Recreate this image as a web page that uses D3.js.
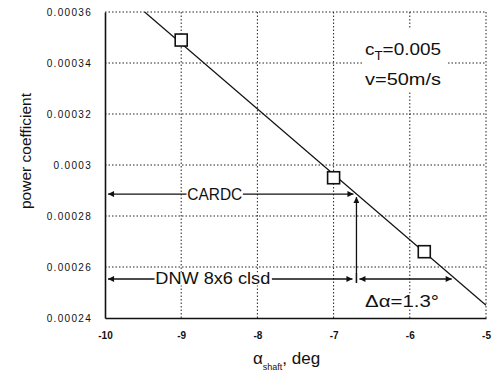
<!DOCTYPE html>
<html><head><meta charset="utf-8">
<script src="https://cdn.jsdelivr.net/npm/d3@7/dist/d3.min.js"></script>
<style>body{margin:0;background:#fff}svg{display:block}text{font-family:"Liberation Sans",Arial,sans-serif;fill:#111}</style>
</head><body>
<script>
// ---- data ----
const xTicks = [-10, -9, -8, -7, -6, -5];
const xTickLabels = ["-10", "-9", "-8", "-7", "-6", "-5"];
const yTicks = [0.00024, 0.00026, 0.00028, 0.0003, 0.00032, 0.00034, 0.00036];
const yTickLabels = ["0.00024", "0.00026", "0.00028", "0.0003", "0.00032", "0.00034", "0.00036"];
const pointAlpha = [-9, -7, -5.81];
const pointCp = [0.000349, 0.000295, 0.000266];
const fitAlpha = [-9.48, -5];
const fitCp = [0.00036, 0.000245];
const cardcCp = 0.0002886;
const dnwCp = 0.0002553;
const cardcAlpha = -6.7;
const dnwAlpha = -5.45;

const W = 497, H = 371;
const svg = d3.select("body").append("svg").attr("width", W).attr("height", H);
const x = d3.scaleLinear().domain([-10, -5]).range([105, 486]);
const y = d3.scaleLinear().domain([0.00024, 0.00036]).range([318, 12]);

const defs = svg.append("defs");
defs.append("marker").attr("id", "ah").attr("viewBox", "0 0 10 10").attr("refX", 10).attr("refY", 5)
  .attr("markerWidth", 9).attr("markerHeight", 6).attr("markerUnits", "userSpaceOnUse").attr("orient", "auto-start-reverse")
  .append("path").attr("d", "M0,0 L10,5 L0,10 Z").attr("fill", "#111");

// grid
const grid = svg.append("g").attr("stroke", "#222").attr("stroke-width", 1).attr("stroke-dasharray", "1.5,2");
grid.selectAll(".gx").data(xTicks.slice(1)).join("line")
  .attr("x1", d => x(d)).attr("x2", d => x(d)).attr("y1", y(0.00036)).attr("y2", y(0.00024));
grid.selectAll(".gy").data(yTicks.slice(1)).join("line")
  .attr("y1", d => y(d)).attr("y2", d => y(d)).attr("x1", x(-10)).attr("x2", x(-5));

// axes
const xAxis = d3.axisBottom(x).tickValues(xTicks).tickFormat((d, i) => xTickLabels[i]).tickSize(0).tickPadding(14);
const gx = svg.append("g").attr("transform", `translate(0,${y(0.00024)})`).call(xAxis);
gx.select(".domain").attr("stroke", "#111").attr("stroke-width", 1.6);
gx.selectAll("text").attr("font-size", 10).attr("font-weight", "bold").attr("font-family", "Liberation Sans, Arial");
const yAxis = d3.axisLeft(y).tickValues(yTicks).tickFormat((d, i) => yTickLabels[i]).tickSize(0).tickPadding(13);
const gy = svg.append("g").attr("transform", `translate(${x(-10)},0)`).call(yAxis);
gy.select(".domain").attr("stroke", "#111").attr("stroke-width", 1.6);
gy.selectAll("text").attr("font-size", 10).attr("letter-spacing", "1.3px").attr("font-family", "Liberation Sans, Arial");

// fit line
svg.append("path").datum(fitAlpha.map((a, i) => [a, fitCp[i]]))
  .attr("d", d3.line().x(d => x(d[0])).y(d => y(d[1])))
  .attr("fill", "none").attr("stroke", "#111").attr("stroke-width", 1.2);

// squares
svg.selectAll(".pt").data(pointAlpha.map((a, i) => [a, pointCp[i]])).join("rect")
  .attr("x", d => x(d[0]) - 6).attr("y", d => y(d[1]) - 6).attr("width", 12).attr("height", 12)
  .attr("fill", "#fff").attr("stroke", "#111").attr("stroke-width", 1.6);

// annotations
function bgText(txt, xa, yc, size, len) {
  const t = svg.append("text").attr("x", xa).attr("y", yc).attr("font-size", size)
    .attr("dominant-baseline", "central").text(txt);
  if (len) t.attr("textLength", len).attr("lengthAdjust", "spacingAndGlyphs");
  const b = t.node().getBBox();
  svg.insert("rect", () => t.node()).attr("x", b.x - 1).attr("y", b.y + 2).attr("width", b.width + 2).attr("height", b.height - 4).attr("fill", "#fff");
  return t;
}
function arrow(x1, y1, x2, y2, both) {
  const l = svg.append("line").attr("x1", x1).attr("y1", y1).attr("x2", x2).attr("y2", y2)
    .attr("stroke", "#111").attr("stroke-width", 1.3).attr("marker-end", "url(#ah)");
  if (both) l.attr("marker-start", "url(#ah)");
}
const yC = y(cardcCp), yD = y(dnwCp), xc = x(cardcAlpha);
bgText("CARDC", x(-8.92), yC, 16, 55);
arrow(x(-8.93), yC, x(-9.96), yC);
arrow(x(-8.19), yC, xc - 3, yC);
bgText("DNW 8x6 clsd", x(-9.34), yD, 16, 115);
arrow(x(-9.35), yD, x(-9.96), yD);
arrow(x(-7.81), yD, xc - 4, yD);
arrow(xc, yD + 4, xc, yC + 3);
svg.append("line").attr("x1", xc).attr("x2", xc).attr("y1", yD - 6).attr("y2", yD + 4).attr("stroke", "#111").attr("stroke-width", 1.3);
arrow(xc + 3, yD, x(dnwAlpha), yD, true);
bgText("\u0394\u03b1=1.3\u00b0", 365, 301, 17, 74);

// cT text
svg.append("rect").attr("x", 363).attr("y", 28).attr("width", 84).attr("height", 64).attr("fill", "#fff");
const t1 = svg.append("text").attr("x", 365).attr("y", 55).attr("font-size", 17);
t1.append("tspan").text("c");
t1.append("tspan").attr("font-size", 12).attr("dy", 5).text("T");
t1.append("tspan").attr("dy", -5).text("=0.005");
t1.attr("textLength", 76).attr("lengthAdjust", "spacingAndGlyphs");
svg.append("text").attr("x", 365).attr("y", 85).attr("font-size", 17).attr("textLength", 76).attr("lengthAdjust", "spacingAndGlyphs").text("v=50m/s");

// axis titles
svg.append("text").attr("transform", "translate(31,151) rotate(-90)").attr("text-anchor", "middle").attr("font-size", 15.5).text("power coefficient");
const xt = svg.append("text").attr("x", 253).attr("y", 364).attr("font-size", 17);
xt.append("tspan").text("\u03b1");
xt.append("tspan").attr("font-size", 9).attr("dy", 6).text("shaft");
xt.append("tspan").attr("dy", -6).text(", deg");
</script>
</body></html>
